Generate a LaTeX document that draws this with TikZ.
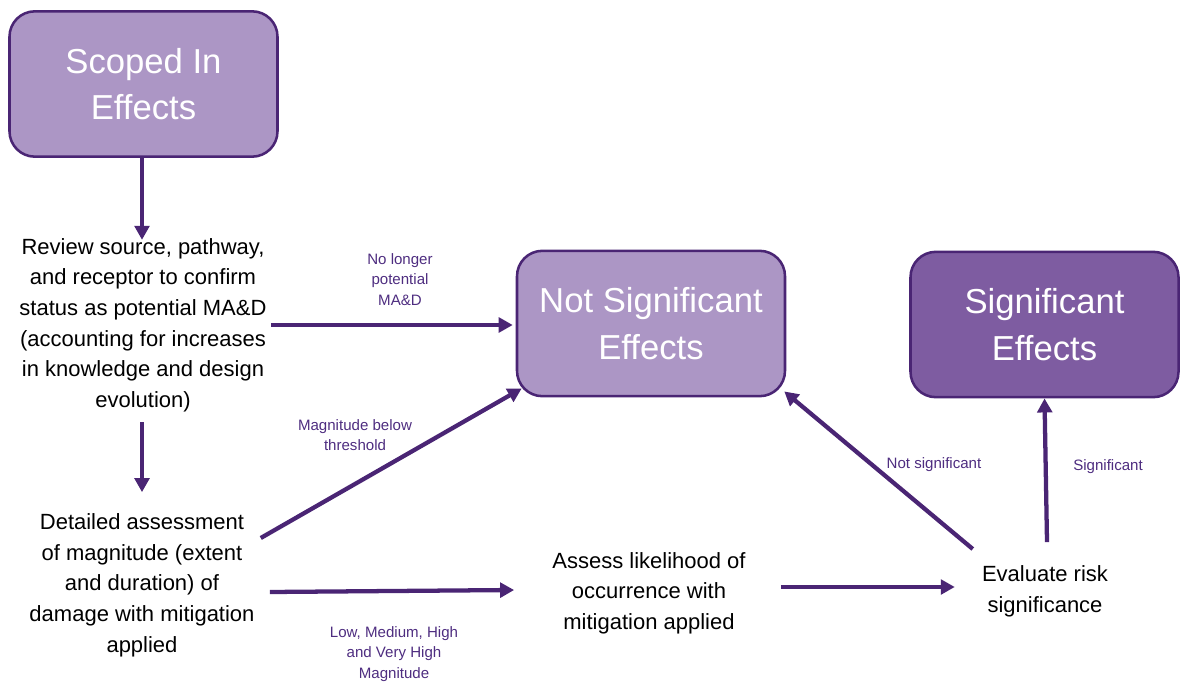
\documentclass[tikz,border=0pt]{standalone}
\usepackage{fontspec}
\setmainfont{Liberation Sans}
\usetikzlibrary{arrows.meta,calc}
\definecolor{boxlight}{HTML}{AC96C5}
\definecolor{boxdark}{HTML}{7E5CA1}
\definecolor{edge}{HTML}{4A2574}
\definecolor{labelcol}{HTML}{4E2D80}
\begin{document}
\begin{tikzpicture}[x=0.75pt,y=-0.75pt,
  effectbox/.style={draw=edge,line width=1.9pt,rounded corners=19pt,
    minimum width=201pt,minimum height=109pt,align=center,text=white,
    font=\fontsize{26}{35}\selectfont,inner sep=0pt},
  stepbox/.style={align=center,inner sep=0pt,text=black,
    font=\fontsize{16.5}{23}\selectfont},
  flowlabel/.style={align=center,inner sep=0pt,text=labelcol,
    font=\fontsize{11.3}{15.4}\selectfont},
  flow/.style={draw=edge,line width=3.2pt,
    -{Triangle[length=10.5pt,width=11pt]}}]
\useasboundingbox (0,0) rectangle (1180,681);

% effect categories
\node[effectbox,fill=boxlight] (scoped) at (143.5,84) {Scoped In\\Effects};
\node[effectbox,fill=boxlight] (ns) at (651,323.5) {Not Significant\\Effects};
\node[effectbox,fill=boxdark] (sig) at (1044.5,324.5) {Significant\\Effects};

% assessment steps
\node[stepbox] (rev) at (143,325) {Review source, pathway,\\and receptor to confirm\\status as potential MA\&D\\(accounting for increases\\in knowledge and design\\evolution)};
\node[stepbox] (det) at (142,585) {Detailed assessment\\of magnitude (extent\\and duration) of\\damage with mitigation\\applied};
\node[stepbox] (as) at (649,593) {Assess likelihood of\\occurrence with\\mitigation applied};
\node[stepbox] (ev) at (1045,591.5) {Evaluate risk\\significance};

% connector labels
\node[flowlabel] (l1) at (400,279.5) {No longer\\potential\\MA\&D};
\node[flowlabel] (l2) at (355,435) {Magnitude below\\threshold};
\node[flowlabel] (l3) at (394,654) {Low, Medium, High\\and Very High\\Magnitude};
\node[flowlabel] (l4) at (934,465) {Not significant};
\node[flowlabel] (l5) at (1108,467) {Significant};

% connectors
\draw[flow] ($(scoped.south)+(-1.5,0)$) -- ($(rev.north)+(-1,2)$);
\draw[flow] ($(rev.south)+(-1,10)$) -- ($(det.north)+(0,-21)$);
\draw[flow] ($(rev.east)+(4,0)$) -- ($(ns.west)+(-3,1.5)$);
\draw[flow] ($(det.east)+(6,-47)$) -- ($(ns.south west)+(6,-9)$);
\draw[flow] ($(det.east)+(15,7)$) -- ($(as.west)+(-38,-3)$);
\draw[flow] ($(as.east)+(35,-6)$) -- ($(ev.west)+(-27,-4.5)$);
\draw[flow] ($(ev.west)+(-9,-42.5)$) -- ($(ns.south east)+(-2,-6)$);
\draw[flow] ($(ev.north)+(2,-23.5)$) -- (sig.south);
\end{tikzpicture}
\end{document}
